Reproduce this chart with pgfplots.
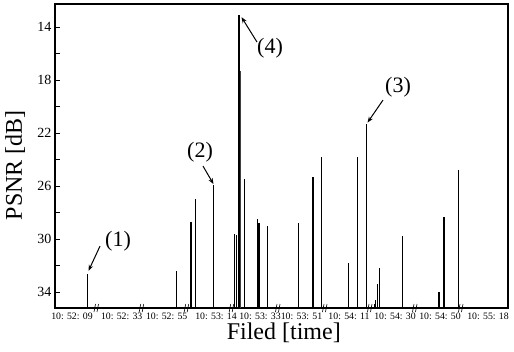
\documentclass[border=0pt]{standalone}
\usepackage{fontspec}
\setmainfont{Liberation Serif}
\usepackage{pgfplots}
\pgfplotsset{compat=1.18}
\usetikzlibrary{arrows.meta}
\begin{document}
\begin{tikzpicture}
\useasboundingbox (0,0) rectangle (514pt,351pt);
\begin{axis}[
  at={(55pt,43pt)}, anchor=south west,
  scale only axis, width=453pt, height=304pt,
  xmin=0, xmax=453, ymin=12.26, ymax=35.2, y dir=reverse,
  clip=false,
  axis line style={line width=1.4pt},
  ytick={14,18,22,26,30,34}, minor ytick={16,20,24,28,32},
  tick align=inside, ytick pos=left,
  major tick length=5pt, minor tick length=5pt,
  every tick/.style={line width=0.9pt, black},
  xtick={17,66.7,111.7,161,205,246.5,294,340,385,433},
  xticklabels={10: 52: 09,10: 52: 33,10: 52: 55,10: 53: 14,10: 53: 33,10: 53: 51,10: 54: 11,10: 54: 30,10: 54: 50,10: 55: 18},
  xtick style={draw=none},
  x tick label style={font=\fontsize{9.8}{10}\selectfont, yshift=-1pt},
  y tick label style={font=\fontsize{14}{14}\selectfont},
  /pgf/number format/assume math mode=true,
  ylabel={PSNR [dB]}, xlabel={Filed [time]},
  label style={font=\fontsize{24}{24}\selectfont},
  ylabel style={at={(axis description cs:-0.088,0.47)}, anchor=center},
  xlabel style={at={(axis description cs:0.505,0)}, yshift=-25pt, anchor=center},
]
\addplot[black, line width=1.4pt, unbounded coords=jump] coordinates {
  (32.7,35.2) (32.7,32.6) (32.7,nan)
  (121.7,35.2) (121.7,32.4) (121.7,nan)
  (136,35.2) (136,28.7) (136,nan)
  (140.7,35.2) (140.7,27.0) (140.7,nan)
  (158.7,35.2) (158.7,25.9) (158.7,nan)
  (179.3,35.2) (179.3,29.6) (179.3,nan)
  (181.7,35.2) (181.7,29.7) (181.7,nan)
  (189.5,35.2) (189.5,25.5) (189.5,nan)
  (202.3,35.2) (202.3,28.5) (202.3,nan)
  (204,35.2) (204,28.8) (204,nan)
  (212.3,35.2) (212.3,29.0) (212.3,nan)
  (243.7,35.2) (243.7,28.8) (243.7,nan)
  (258,35.2) (258,25.3) (258,nan)
  (266.3,35.2) (266.3,23.8) (266.3,nan)
  (293.7,35.2) (293.7,31.8) (293.7,nan)
  (302.3,35.2) (302.3,23.8) (302.3,nan)
  (311.7,35.2) (311.7,21.3) (311.7,nan)
  (319.5,35.2) (319.5,34.9) (319.5,nan)
  (320.7,35.2) (320.7,34.6) (320.7,nan)
  (322.7,35.2) (322.7,33.4) (322.7,nan)
  (324.7,35.2) (324.7,32.2) (324.7,nan)
  (347.3,35.2) (347.3,29.8) (347.3,nan)
  (384,35.2) (384,34.0) (384,nan)
  (389,35.2) (389,28.3) (389,nan)
  (403.3,35.2) (403.3,24.8)
};
\addplot[black, line width=2pt] coordinates {(183.6,35.2) (183.6,13.1)};
\addplot[black!75, line width=1.3pt] coordinates {(185.7,35.2) (185.7,17.3)};
% break marks on the time axis
\pgfplotsinvokeforeach{41.5,86.7,131.7,176.7,223,270,315,360,406}{
  \draw[line width=0.6pt] ([xshift=-2.5pt,yshift=-4pt]axis cs:#1,35.2) -- ++(1.5pt,8pt);
  \draw[line width=0.6pt] ([xshift=0.5pt,yshift=-4pt]axis cs:#1,35.2) -- ++(1.5pt,8pt);
}
% annotations
\node[font=\fontsize{22}{22}\selectfont] at (axis cs:63,30.15) {(1)};
\draw[-{Stealth[length=6pt,width=4.5pt]}, line width=1pt] (axis cs:45,30.53) -- (axis cs:33.5,32.4);
\node[font=\fontsize{22}{22}\selectfont] at (axis cs:145,23.43) {(2)};
\draw[-{Stealth[length=6pt,width=4.5pt]}, line width=1pt] (axis cs:148,24.49) -- (axis cs:158.5,25.85);
\node[font=\fontsize{22}{22}\selectfont] at (axis cs:215,15.58) {(4)};
\draw[-{Stealth[length=6pt,width=4.5pt]}, line width=1pt] (axis cs:202,15.13) -- (axis cs:186.5,13.25);
\node[font=\fontsize{22}{22}\selectfont] at (axis cs:343,18.53) {(3)};
\draw[-{Stealth[length=6pt,width=4.5pt]}, line width=1pt] (axis cs:328,19.51) -- (axis cs:312.5,21.21);
\end{axis}
\end{tikzpicture}
\end{document}
